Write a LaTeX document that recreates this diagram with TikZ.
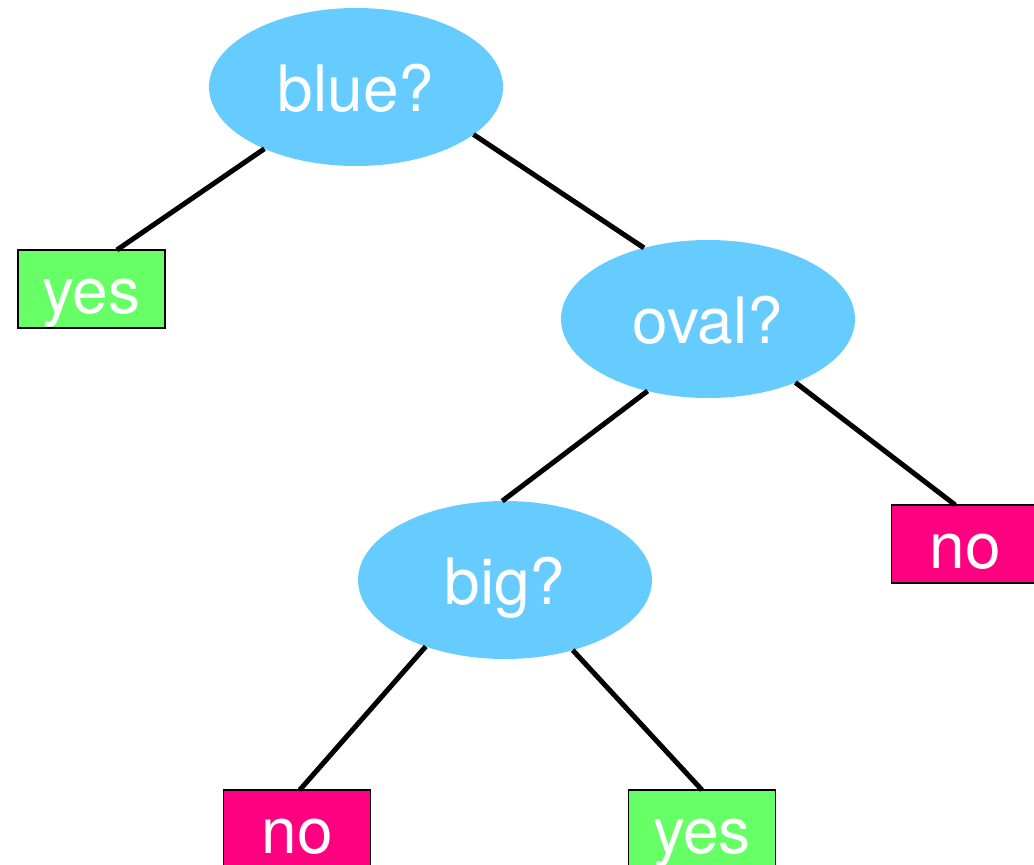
\documentclass[tikz,border=0pt]{standalone}
\usepackage{fontspec}
\setmainfont{TeX Gyre Heros}
\usetikzlibrary{shapes.geometric}

\definecolor{askblue}{HTML}{66CCFF}
\definecolor{leafgreen}{HTML}{66FF66}
\definecolor{leafpink}{HTML}{FF0080}

\begin{document}
\begin{tikzpicture}[x=1pt,y=-1pt,
  ask/.style={ellipse,fill=askblue,text=white,minimum width=294pt,minimum height=158pt,inner sep=0pt,outer sep=0pt,
    font=\fontsize{64}{70}\selectfont,text height=62pt,text depth=14pt},
  leaf/.style={rectangle,draw=black,line width=1.5pt,text=white,minimum width=147pt,minimum height=78pt,inner sep=0pt,outer sep=0pt,
    font=\fontsize{64}{70}\selectfont,text height=62pt,text depth=14pt},
  yesbox/.style={leaf,fill=leafgreen},
  nobox/.style={leaf,fill=leafpink},
  edge/.style={line width=5pt}]
\useasboundingbox (0,0) rectangle (1034,865);

\node[ask] (blue) at (356,87) {blue?};
\node[ask] (oval) at (708,319) {oval?};
\node[ask] (big) at (505,580) {big?};

\node[yesbox] (yes1) at (91.5,289) {yes};
\node[nobox] (no1) at (965,544) {no};
\node[nobox] (no2) at (297,829) {no};
\node[yesbox] (yes2) at (702,829) {yes};

\draw[edge] (blue.214) -- (yes1.57);
\draw[edge] (blue.338) -- (oval.132);
\draw[edge] (oval.230) -- (big.92);
\draw[edge] (oval.324) -- (no1.104);
\draw[edge] (big.220) -- (no2.86);
\draw[edge] (big.314) -- (yes2.north);
\end{tikzpicture}
\end{document}
